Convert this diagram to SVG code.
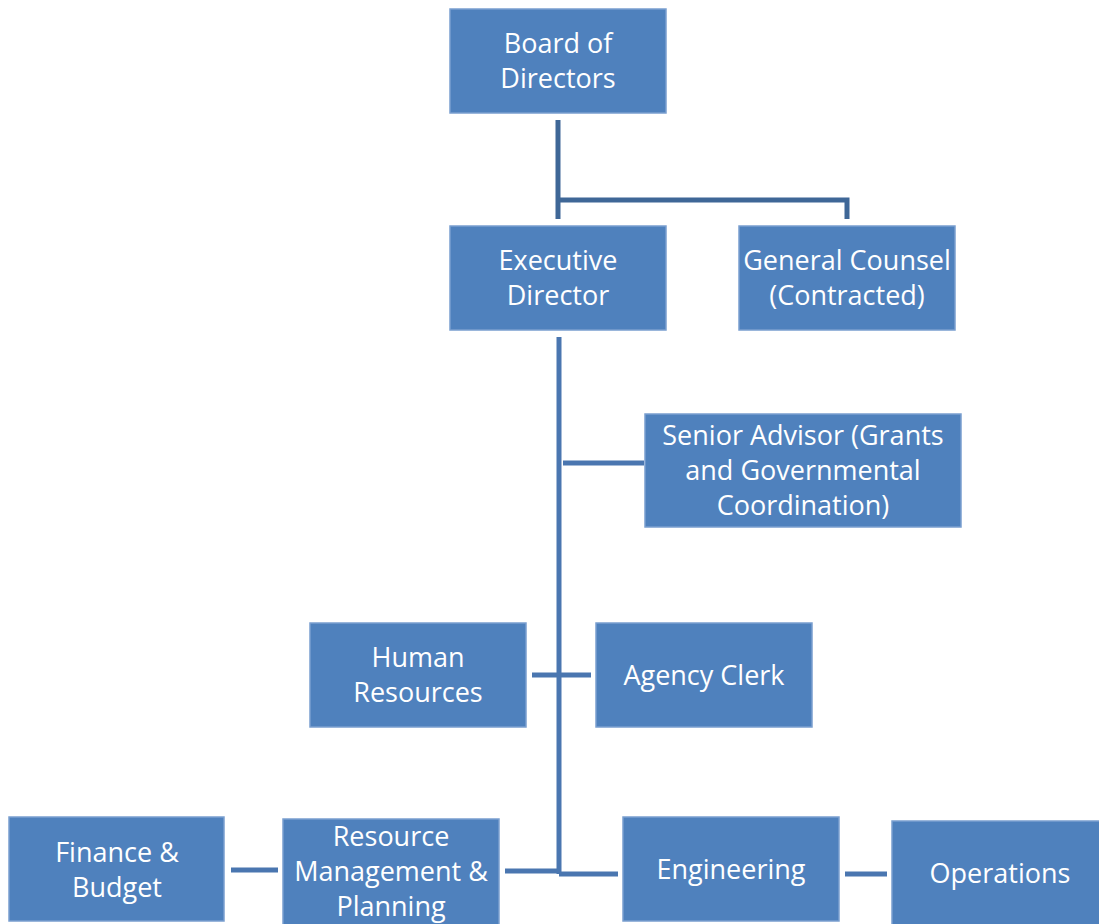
<svg xmlns="http://www.w3.org/2000/svg" width="1099" height="924" viewBox="0 0 1099 924">
<style>
.box{fill:#4F81BD;stroke:#7A9FCF;stroke-width:1.5}
.t{font-family:"Open Sans","Liberation Sans",sans-serif;font-size:27px;fill:#FFFFFF;text-anchor:middle}
.c{stroke:#4A76B0;stroke-width:5;fill:none}
.c2{stroke:#3F6797;stroke-width:5;fill:none}
</style>
<rect width="1099" height="924" fill="#FFFFFF"/>
<g id="connectors">
<path class="c2" d="M558,120 V219 M558,200 H847 V219"/>
<path class="c" d="M559,337 V874"/>
<path class="c" d="M563,463 H644"/>
<path class="c" d="M532,675 H591"/>
<path class="c" d="M505,871 H559 M559,874 H618"/>
<path class="c" d="M231,870 H278"/>
<path class="c" d="M845,874 H887"/>
</g>
<g id="board"><rect class="box" x="450" y="9" width="216" height="104"/><text class="t" x="558" y="53">Board of</text><text class="t" x="558" y="88">Directors</text></g>
<g id="exec"><rect class="box" x="450" y="226" width="216" height="104"/><text class="t" x="558" y="270">Executive</text><text class="t" x="558" y="305">Director</text></g>
<g id="counsel"><rect class="box" x="739" y="226" width="216" height="104"/><text class="t" x="847" y="270">General Counsel</text><text class="t" x="847" y="305">(Contracted)</text></g>
<g id="senior"><rect class="box" x="645" y="414" width="316" height="113"/><text class="t" x="803" y="445">Senior Advisor (Grants</text><text class="t" x="803" y="480">and Governmental</text><text class="t" x="803" y="515">Coordination)</text></g>
<g id="hr"><rect class="box" x="310" y="623" width="216" height="104"/><text class="t" x="418" y="667">Human</text><text class="t" x="418" y="702">Resources</text></g>
<g id="clerk"><rect class="box" x="596" y="623" width="216" height="104"/><text class="t" x="704" y="685">Agency Clerk</text></g>
<g id="finance"><rect class="box" x="9" y="817" width="215" height="104"/><text class="t" x="117" y="862">Finance &amp;</text><text class="t" x="117" y="897">Budget</text></g>
<g id="resource"><rect class="box" x="283" y="819" width="216" height="106"/><text class="t" x="391" y="846">Resource</text><text class="t" x="391" y="881">Management &amp;</text><text class="t" x="391" y="916">Planning</text></g>
<g id="engineering"><rect class="box" x="623" y="817" width="216" height="104"/><text class="t" x="731" y="879">Engineering</text></g>
<g id="operations"><rect class="box" x="892" y="821" width="208" height="104"/><text class="t" x="1000" y="883">Operations</text></g>
</svg>
